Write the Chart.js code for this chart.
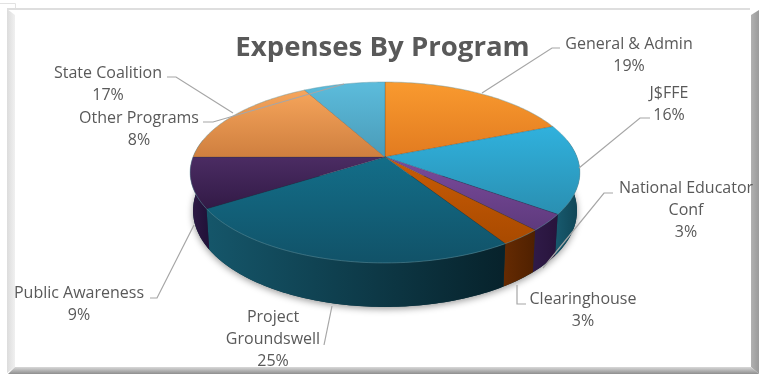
<!DOCTYPE html>
<html>
<head>
<meta charset="utf-8">
<title>Expenses By Program</title>
<script src="https://cdn.jsdelivr.net/npm/chart.js@4"></script>
<style>
  html, body { margin: 0; padding: 0; background: #fff; }
  canvas { display: block; }
</style>
</head>
<body>
<canvas id="chart" width="765" height="374"></canvas>
<script>
// Program names, wrapped the way they are printed beside the pie
const programs = [
  ['General & Admin'], ['J$FFE'], ['National Educator', 'Conf'], ['Clearinghouse'],
  ['Project', 'Groundswell'], ['Public Awareness'], ['State Coalition'], ['Other Programs']
];
// Share of expenses, percent
const shares = [19, 16, 3, 3, 25, 9, 17, 8];

// Slice palette: lit top of each face, lower end of its gradient, side wall left and right
const faceTop = ['#f99a2f', '#30b1dd', '#7b4b9c', '#c95c06', '#136e89', '#4b2c63', '#f6a55b', '#5cbcdc'];
const faceLow = ['#e27b20', '#2a8fb1', '#5e3a7d', '#a94a00', '#115268', '#321a46', '#cf7f3f', '#4a9bb8'];
const wallLeft = ['#b5641c', '#17586c', '#2f1a47', '#642a02', '#15566a', '#2f1a45', '#a86030', '#2d7088'];
const wallRight = ['#a05515', '#0f4454', '#28143c', '#4f2000', '#07222b', '#22123a', '#a86030', '#2d7088'];

// Where each label sits: line centres and its leader polyline
const labelX = [629, 669, 686, 583, 273, 79, 108, 139];
const labelY = [44, 93, 188, 299, 317, 293, 73, 118];
const leaders = [
  [[560, 48], [552, 48], [482, 93]],
  [[650, 118], [640, 118], [579, 168]],
  [[613, 193], [604, 193], [543, 268]],
  [[526, 304], [517, 304], [517, 285]],
  [[324, 345], [332, 306]],
  [[150, 298], [157, 298], [194, 225]],
  [[167, 77], [176, 77], [233, 113]],
  [[203, 122], [213, 122], [344, 84]]
];

const textColor = '#595959';
const labelFont = '16px "Open Sans"';
const lineStep = 22;

// Perspective view of the disc: apex position and projected radii
const apexX = 385, apexY = 157;
const radiusX = 192, radiusY = 87.8, tilt = 0.171;

// Project a pie angle onto the tilted top face
function rim(angle) {
  const X = Math.cos(angle), Y = Math.sin(angle), w = 1 - tilt * Y;
  return { x: apexX + radiusX * X / w, y: apexY + radiusY * Y / w, near: Y };
}
// Same point on the lower edge of the disc
function lowerRim(angle) {
  const p = rim(angle);
  return { x: apexX + (p.x - apexX) * 0.985, y: p.y + 37 + 7 * p.near };
}
function samples(a0, a1) {
  const n = Math.max(2, Math.ceil((a1 - a0) / 0.02));
  const out = [];
  for (let i = 0; i <= n; i++) out.push(a0 + (a1 - a0) * i / n);
  return out;
}

// Replaces the flat arcs with walls and a foreshortened face, using the angles the controller computed
const pie3d = {
  id: 'pie3d',
  beforeDatasetsDraw(chart) {
    const ctx = chart.ctx;
    const arcs = chart.getDatasetMeta(0).data;

    // soft contact shadow under the disc
    ctx.save();
    ctx.shadowColor = 'rgba(0,0,0,0.4)';
    ctx.shadowBlur = 7;
    ctx.shadowOffsetY = 2;
    ctx.fillStyle = '#0d3442';
    ctx.beginPath();
    samples(-0.2, Math.PI + 0.2).forEach((a, i) => {
      const p = lowerRim(a);
      i ? ctx.lineTo(p.x, p.y) : ctx.moveTo(p.x, p.y);
    });
    ctx.closePath();
    ctx.fill();
    ctx.restore();

    // side walls, back to front
    arcs.forEach((arc, i) => {
      const a0 = Math.max(arc.startAngle, -0.2);
      const a1 = Math.min(arc.endAngle, Math.PI + 0.2);
      if (a1 <= a0) return;
      const pts = samples(a0, a1);
      const xs = pts.map(a => rim(a).x);
      const g = ctx.createLinearGradient(Math.max(...xs), 0, Math.min(...xs), 0);
      g.addColorStop(0, wallRight[i]);
      g.addColorStop(1, wallLeft[i]);
      ctx.fillStyle = g;
      ctx.beginPath();
      pts.forEach((a, k) => {
        const p = rim(a);
        k ? ctx.lineTo(p.x, p.y) : ctx.moveTo(p.x, p.y);
      });
      pts.slice().reverse().forEach(a => {
        const p = lowerRim(a);
        ctx.lineTo(p.x, p.y);
      });
      ctx.closePath();
      ctx.fill();
    });

    // top faces
    arcs.forEach((arc, i) => {
      const pts = samples(arc.startAngle, arc.endAngle).map(rim);
      const ys = pts.map(p => p.y).concat(apexY);
      const g = ctx.createLinearGradient(0, Math.min(...ys), 0, Math.max(...ys));
      g.addColorStop(0, faceTop[i]);
      g.addColorStop(1, faceLow[i]);
      ctx.fillStyle = g;
      ctx.beginPath();
      ctx.moveTo(apexX, apexY);
      pts.forEach(p => ctx.lineTo(p.x, p.y));
      ctx.closePath();
      ctx.fill();
      ctx.strokeStyle = 'rgba(30,50,60,0.35)';
      ctx.lineWidth = 0.6;
      ctx.stroke();
      // pale highlight along the near edge
      ctx.strokeStyle = 'rgba(150,215,230,0.3)';
      ctx.lineWidth = 1;
      ctx.beginPath();
      pts.forEach((p, k) => k ? ctx.lineTo(p.x, p.y) : ctx.moveTo(p.x, p.y));
      ctx.stroke();
    });
    return false;
  },
  afterDraw(chart) {
    const ctx = chart.ctx;
    // leader lines
    ctx.save();
    ctx.strokeStyle = '#a6a6a6';
    ctx.lineWidth = 1.2;
    leaders.forEach(path => {
      ctx.beginPath();
      path.forEach(([x, y], k) => k ? ctx.lineTo(x, y) : ctx.moveTo(x, y));
      ctx.stroke();
    });
    // name and percent labels
    ctx.fillStyle = textColor;
    ctx.font = labelFont;
    ctx.textAlign = 'center';
    ctx.textBaseline = 'middle';
    chart.data.labels.forEach((lines, i) => {
      const rows = lines.concat(chart.data.datasets[0].data[i] + '%');
      rows.forEach((t, k) => ctx.fillText(t, labelX[i], labelY[i] + k * lineStep));
    });
    ctx.restore();
  }
};

// Bevelled picture frame around the chart
const frame = {
  id: 'frame',
  beforeDraw(chart) {
    const ctx = chart.ctx;
    const poly = (fill, pts) => {
      ctx.fillStyle = fill;
      ctx.beginPath();
      pts.forEach(([x, y], k) => k ? ctx.lineTo(x, y) : ctx.moveTo(x, y));
      ctx.closePath();
      ctx.fill();
    };
    ctx.save();
    ctx.fillStyle = '#fff';
    ctx.fillRect(0, 0, 765, 374);
    ctx.strokeStyle = '#e2e2e2';
    ctx.lineWidth = 1;
    ctx.beginPath();
    ctx.moveTo(0, 3.5); ctx.lineTo(15.5, 3.5); ctx.lineTo(15.5, 8);
    ctx.stroke();
    poly('#dedede', [[7, 8], [750, 8], [750, 10], [7, 10]]);
    let g = ctx.createLinearGradient(7, 0, 15, 0);
    g.addColorStop(0, '#dcdcdc');
    g.addColorStop(1, '#f0f0f0');
    poly(g, [[7, 9], [15, 15], [15, 367], [7, 373]]);
    g = ctx.createLinearGradient(750, 0, 759, 0);
    g.addColorStop(0, '#b4b4b4');
    g.addColorStop(1, '#9a9a9a');
    poly(g, [[751, 15], [759, 10], [759, 374], [751, 367]]);
    g = ctx.createLinearGradient(0, 367, 0, 374);
    g.addColorStop(0, '#d8d8d8');
    g.addColorStop(1, '#8f8f8f');
    poly(g, [[15, 367], [751, 367], [759, 374], [8, 374]]);
    ctx.restore();
  }
};

new Chart(document.getElementById('chart'), {
  type: 'pie',
  data: {
    labels: programs,
    datasets: [{ data: shares, backgroundColor: faceTop, borderWidth: 0 }]
  },
  options: {
    responsive: false,
    animation: false,
    plugins: {
      legend: { display: false },
      tooltip: { enabled: false },
      title: {
        display: true,
        text: 'Expenses By Program',
        color: textColor,
        font: { family: '"Open Sans"', size: 27.6, weight: 'bold' },
        padding: { top: 32, bottom: 10 }
      }
    }
  },
  plugins: [frame, pie3d]
});
</script>
</body>
</html>
